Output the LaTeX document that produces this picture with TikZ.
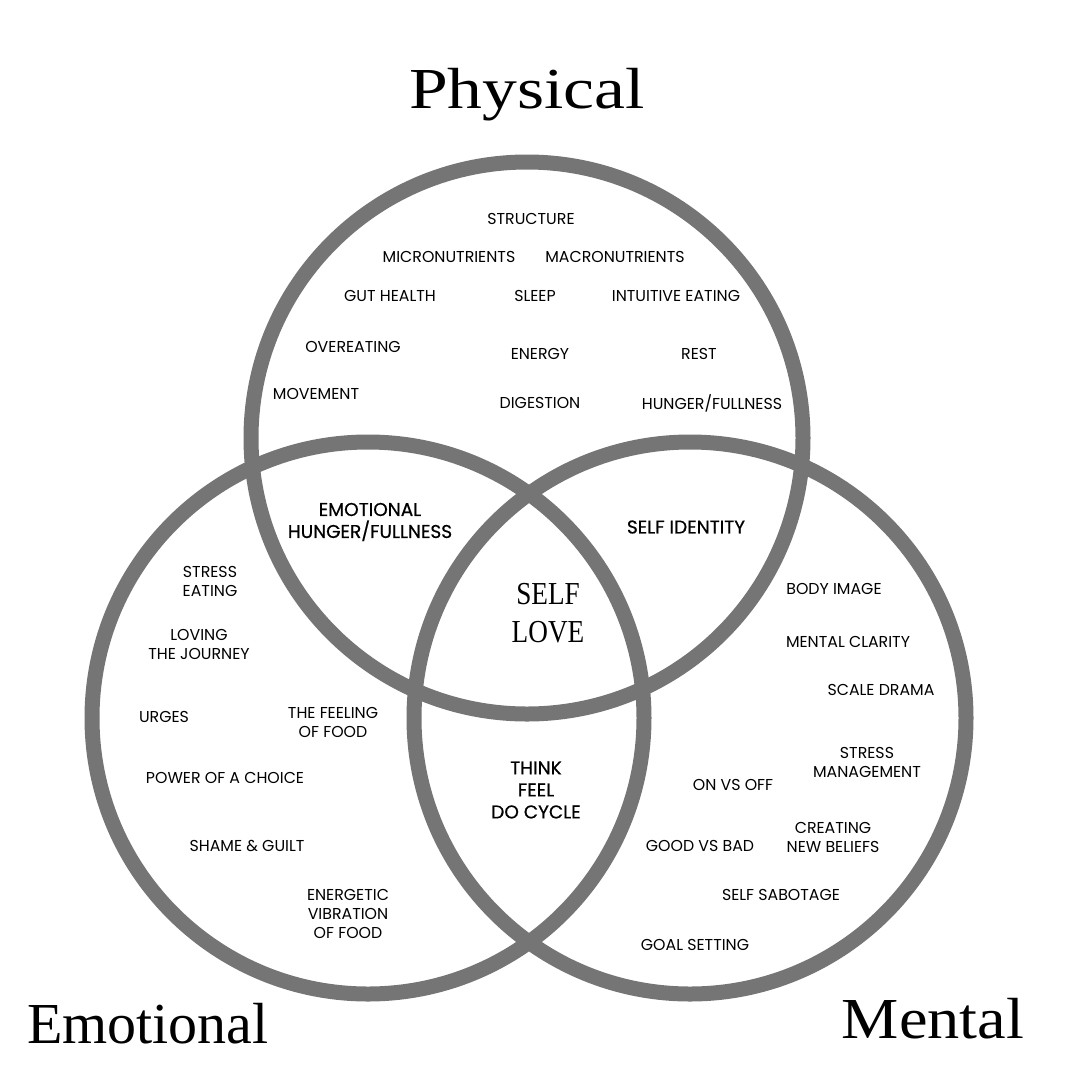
\documentclass[tikz,border=0pt]{standalone}
\usepackage{fontspec}
\newfontfamily\lab{Poppins}
\newfontfamily\labm{Poppins}[FakeBold=0.6]
\newfontfamily\ttl{Liberation Serif}
\definecolor{ring}{RGB}{117,117,117}
\begin{document}
\begin{tikzpicture}[x=1pt,y=-1pt,
  ringstyle/.style={draw=ring, line width=15pt},
  lbl/.style={align=center, inner sep=0pt, font=\lab\fontsize{15.8}{19}\selectfont},
  lblm/.style={align=center, inner sep=0pt, font=\labm\fontsize{18.5}{22}\selectfont},
  ttlstyle/.style={inner sep=0pt, anchor=base, font=\ttl\fontsize{58}{60}\selectfont},
  lovestyle/.style={align=center, inner sep=0pt, font=\ttl\fontsize{32}{38}\selectfont},
]
\useasboundingbox[fill=white] (0,0) rectangle (1080,1080);

% rings
\draw[ringstyle] (527,438) circle[radius=276pt];
\draw[ringstyle] (368,718) circle[radius=276pt];
\draw[ringstyle] (690,718) circle[radius=276pt];

% titles
\node[ttlstyle] (tphys) at (527,108) {\scalebox{1.2}[1]{Physical}};
\node[ttlstyle] (temo) at (148,1043) {\scalebox{1.0}[1]{Emotional}};
\node[ttlstyle] (tment) at (933,1038) {\scalebox{1.11}[1]{Mental}};

% physical
\node[lbl] (p1) at (531,219) {STRUCTURE};
\node[lbl] (p2) at (449,257) {MICRONUTRIENTS};
\node[lbl] (p3) at (615,257) {MACRONUTRIENTS};
\node[lbl] (p4) at (390,296) {GUT HEALTH};
\node[lbl] (p5) at (535,296) {SLEEP};
\node[lbl] (p6) at (676,296) {INTUITIVE EATING};
\node[lbl] (p7) at (353,347) {OVEREATING};
\node[lbl] (p8) at (540,354) {ENERGY};
\node[lbl] (p9) at (699,354) {REST};
\node[lbl] (p10) at (316,394) {MOVEMENT};
\node[lbl] (p11) at (540,403) {DIGESTION};
\node[lbl] (p12) at (712,403) {HUNGER/FULLNESS};

% intersections
\node[lblm] (pe) at (370,522) {EMOTIONAL\\HUNGER/FULLNESS};
\node[lblm] (pm) at (686,527) {SELF IDENTITY};
\node[lovestyle] (all) at (548,613) {\scalebox{0.85}[1]{SELF}\\\scalebox{0.85}[1]{LOVE}};
\node[lblm] (em) at (536,790) {THINK\\FEEL\\DO CYCLE};

% emotional
\node[lbl] (e1) at (210,581) {STRESS\\EATING};
\node[lbl] (e2) at (199,644) {LOVING\\THE JOURNEY};
\node[lbl] (e3) at (164,717) {URGES};
\node[lbl] (e4) at (333,722) {THE FEELING\\OF FOOD};
\node[lbl] (e5) at (225,778) {POWER OF A CHOICE};
\node[lbl] (e6) at (247,846) {SHAME \& GUILT};
\node[lbl] (e7) at (348,914) {ENERGETIC\\VIBRATION\\OF FOOD};

% mental
\node[lbl] (m1) at (834,589) {BODY IMAGE};
\node[lbl] (m2) at (848,642) {MENTAL CLARITY};
\node[lbl] (m3) at (881,690) {SCALE DRAMA};
\node[lbl] (m4) at (867,762) {STRESS\\MANAGEMENT};
\node[lbl] (m5) at (733,785) {ON VS OFF};
\node[lbl] (m6) at (700,846) {GOOD VS BAD};
\node[lbl] (m7) at (833,837) {CREATING\\NEW BELIEFS};
\node[lbl] (m8) at (781,895) {SELF SABOTAGE};
\node[lbl] (m9) at (695,945) {GOAL SETTING};
\end{tikzpicture}
\end{document}
